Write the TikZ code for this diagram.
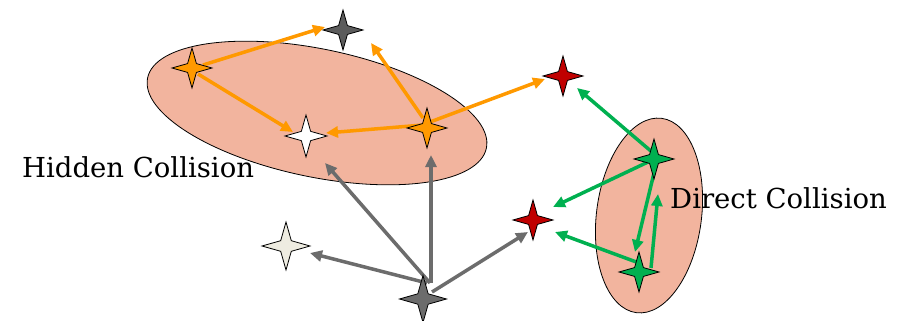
\documentclass[tikz,border=0pt]{standalone}
\usepackage{fontspec}
\setmainfont{DejaVu Serif}
\usetikzlibrary{shapes.geometric,arrows.meta}
\definecolor{blobfill}{RGB}{242,180,158}
\definecolor{orarrow}{RGB}{255,153,0}
\definecolor{grarrow}{RGB}{0,176,80}
\definecolor{gyarrow}{RGB}{108,108,108}
\definecolor{starred}{RGB}{192,0,0}
\definecolor{stardark}{RGB}{92,92,92}
\definecolor{starlight}{RGB}{238,236,225}
\tikzset{
  blob/.style={ellipse, draw=black, line width=0.8pt, fill=blobfill, inner sep=0pt},
  sparkle/.style={star, star points=4, star point ratio=3.2, draw=black, line width=0.8pt, inner sep=0pt, outer sep=0pt, minimum size=40pt},
  conn/.style={line width=3.5pt, -{Triangle[length=12pt,width=11pt]}},
  lab/.style={font=\fontsize{27.5}{32}\selectfont, anchor=base west, inner sep=0pt}
}
\begin{document}
\begin{tikzpicture}[x=1pt,y=-1pt]
\useasboundingbox[fill=white] (0,0) rectangle (906,321);
% ellipses
\node[blob, minimum width=346pt, minimum height=128pt, rotate=-11.7] (hid) at (317,113) {};
\node[blob, minimum width=105pt, minimum height=196pt, rotate=-7.4] (dir) at (649,215.5) {};
% stars (positions)
\coordinate (g1) at (343,30);
\coordinate (o1) at (192,68);
\coordinate (w) at (306,136);
\coordinate (o2) at (427,128);
\coordinate (r1) at (563,76);
\coordinate (gr1) at (654,159);
\coordinate (r2) at (533,220);
\coordinate (gr2) at (639,272);
\coordinate (lg) at (286,246);
\coordinate (g2) at (423,299);
% orange arrows
\draw[conn, orarrow] ([shift={(11,-3)}]o1) -- ([shift={(-18,-3)}]g1);
\draw[conn, orarrow] ([shift={(6,6)}]o1) -- ([shift={(-13,-4)}]w);
\draw[conn, orarrow] ([shift={(-4,-3)}]o2) -- ([shift={(20,-3)}]w);
\draw[conn, orarrow] ([shift={(-4,-10)}]o2) -- ([shift={(28,13)}]g1);
\draw[conn, orarrow] ([shift={(3,-6)}]o2) -- ([shift={(-18,3)}]r1);
% green arrows
\draw[conn, grarrow] ([shift={(-2,-7)}]gr1) -- ([shift={(14,12)}]r1);
\draw[conn, grarrow] ([shift={(-6,3)}]gr1) -- ([shift={(20,-13)}]r2);
\draw[conn, grarrow] ([shift={(0,14)}]gr1) -- ([shift={(-4,-20)}]gr2);
\draw[conn, grarrow] ([shift={(12,-4)}]gr2) -- ([shift={(4,35)}]gr1);
\draw[conn, grarrow] ([shift={(0,-9)}]gr2) -- ([shift={(22,12)}]r2);
% gray arrows
\draw[conn, gyarrow] ([shift={(4,-16)}]g2) -- ([shift={(24,7)}]lg);
\draw[conn, gyarrow] ([shift={(7,-16)}]g2) -- ([shift={(19,27)}]w);
\draw[conn, gyarrow] ([shift={(8,-16)}]g2) -- ([shift={(4,27)}]o2);
\draw[conn, gyarrow] ([shift={(9,-7)}]g2) -- ([shift={(-5,12)}]r2);
% stars
\node[sparkle, fill=stardark] (sg1) at (g1) {};
\node[sparkle, fill=orarrow] (so1) at (o1) {};
\node[sparkle, fill=white, minimum size=42pt] (sw) at (w) {};
\node[sparkle, fill=orarrow] (so2) at (o2) {};
\node[sparkle, fill=starred] (sr1) at (r1) {};
\node[sparkle, fill=grarrow] (sgr1) at (gr1) {};
\node[sparkle, fill=starred] (sr2) at (r2) {};
\node[sparkle, fill=grarrow] (sgr2) at (gr2) {};
\node[sparkle, fill=starlight, minimum size=48pt] (slg) at (lg) {};
\node[sparkle, fill=stardark!90!white, minimum size=47pt] (sg2) at (g2) {};
% labels
\node[lab] (hidlab) at (22,177) {Hidden Collision};
\node[lab] (dirlab) at (670,208) {Direct Collision};
\end{tikzpicture}
\end{document}
